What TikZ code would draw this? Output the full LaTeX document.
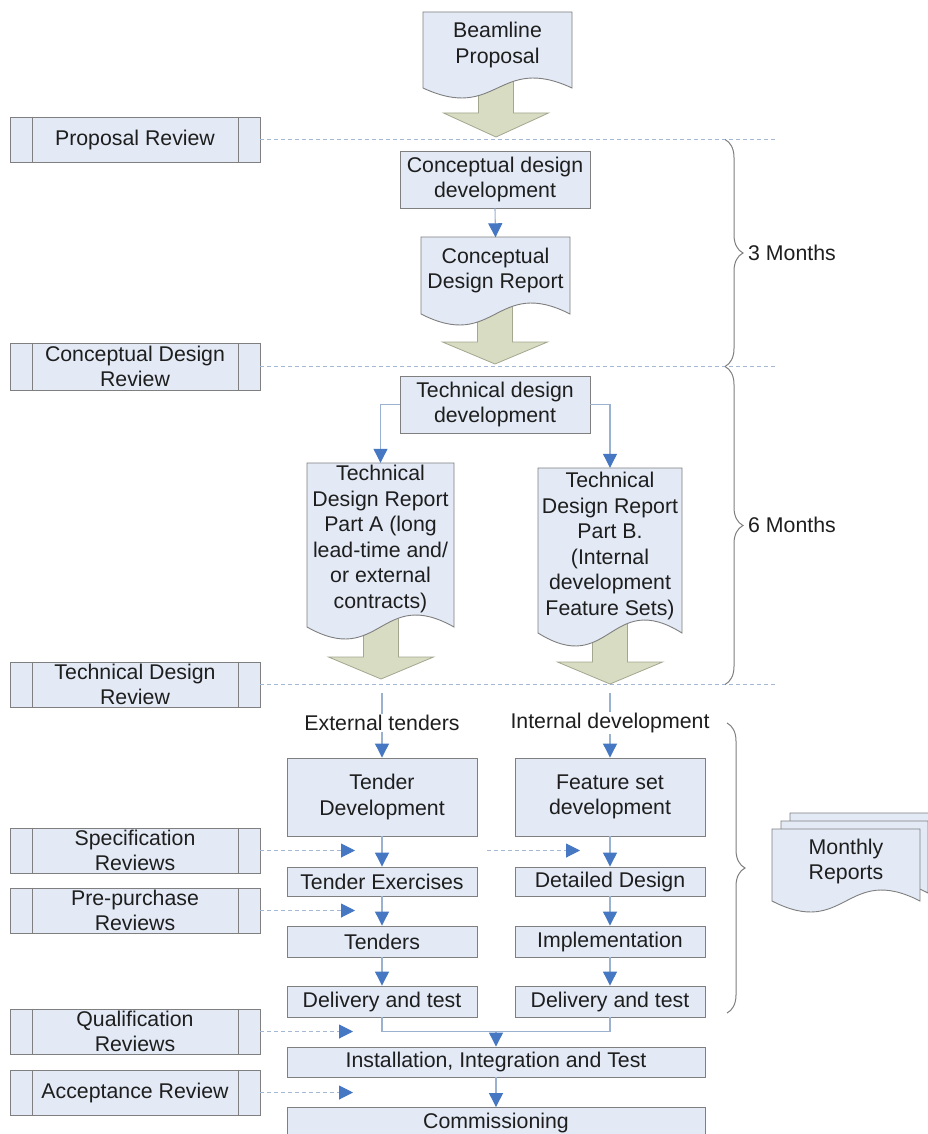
\documentclass[tikz,border=0pt]{standalone}
\usepackage{fontspec}
\setmainfont{Liberation Sans}
\usetikzlibrary{arrows.meta,decorations.pathreplacing}
\definecolor{boxfill}{HTML}{E3EAF6}
\definecolor{boxline}{HTML}{7F7F7F}
\definecolor{greenfill}{HTML}{D7DCC2}
\definecolor{greenline}{HTML}{A3A78F}
\definecolor{connline}{HTML}{9AB1CF}
\definecolor{arrblue}{HTML}{4677C2}
\definecolor{dashcol}{HTML}{A5B8D3}
\definecolor{txt}{HTML}{1E1E1E}
\newcommand\docshape[5]{\draw[docst] (#1,#2) -- (#3,#2) -- (#3,#4) .. controls ({(#1+#3)/2},{#4-3.46*#5}) and ({(#1+#3)/2},{#4+3.46*#5}) .. (#1,#4) -- cycle;}
\newcommand\blockarrow[4]{\draw[garr] ({#1-17.5},#2) -- ({#1+17.5},#2) -- ({#1+17.5},#3) -- ({#1+52.5},#3) -- (#1,#4) -- ({#1-52.5},#3) -- ({#1-17.5},#3) -- cycle;}
\begin{document}
\begin{tikzpicture}[x=1pt,y=-1pt,
  font=\fontsize{21.3}{25.5}\selectfont, text=txt,
  box/.style={draw=boxline, fill=boxfill, line width=0.9pt, inner sep=0pt, align=center, minimum width=190pt},
  rev/.style={box, minimum width=250pt, minimum height=45pt},
  doctxt/.style={inner sep=0pt, align=center},
  docst/.style={draw=boxline, fill=boxfill, line width=0.9pt},
  garr/.style={draw=greenline, fill=greenfill, line width=0.8pt, line join=miter},
  conn/.style={draw=connline, line width=1.1pt},
  arr/.style={conn, -{Triangle[width=14pt,length=14pt,color=arrblue]}},
  dline/.style={draw=dashcol, line width=1pt, dash pattern=on 4pt off 3pt},
  darr/.style={dline, -{Triangle[width=14pt,length=14pt,color=arrblue]}},
  brc/.style={draw=boxline, line width=1pt, decorate, decoration={brace, amplitude=18pt}},
  lbl/.style={inner sep=1pt}]
\useasboundingbox[fill=white] (0,0) rectangle (927,1134);

% review boxes (left)
\node[rev] (prop) at (135,139.5) {Proposal Review};
\node[rev, minimum height=47pt] (cdrev) at (135,366.5) {Conceptual Design\\Review};
\node[rev] (tdrev) at (135,684.5) {Technical Design\\Review};
\node[rev] (spec) at (135,850.5) {Specification\\Reviews};
\node[rev] (pre) at (135,910.5) {Pre-purchase\\Reviews};
\node[rev] (qual) at (135,1031.5) {Qualification\\Reviews};
\node[rev] (acc) at (135,1092.5) {Acceptance Review};
\foreach \r in {prop,cdrev,tdrev,spec,pre,qual,acc}{
  \draw[boxline, line width=0.9pt] ([xshift=23pt]\r.north west) -- ([xshift=23pt]\r.south west);
  \draw[boxline, line width=0.9pt] ([xshift=-22pt]\r.north east) -- ([xshift=-22pt]\r.south east);
}

% dashed phase lines
\coordinate (e1) at (778,139.5);
\coordinate (e2) at (778,366.5);
\coordinate (e3) at (778,684.5);
\draw[dline] (prop.east) -- (e1);
\draw[dline] (cdrev.east) -- (e2);
\draw[dline] (tdrev.east) -- (e3);

% block arrows (under documents)
\blockarrow{496}{70}{113}{137}
\blockarrow{495}{295}{342}{364}
\blockarrow{381}{610}{657}{679}
\blockarrow{610}{615}{662}{684}

% documents
\docshape{423}{12}{572}{88}{10}
\docshape{421}{237}{570}{314}{11}
\docshape{307}{463}{454}{627}{12}
\docshape{538}{468}{682}{633}{13}
\docshape{790}{813}{940}{885}{11}
\docshape{781}{821}{928}{893}{11}
\docshape{772}{829}{920}{901}{11}

\node[doctxt, minimum width=149pt, minimum height=66pt] (bp) at (497.5,45) {Beamline\\Proposal};
\node[doctxt, minimum width=149pt, minimum height=66pt] (cdr) at (495.5,270.5) {Conceptual\\Design Report};
\node[doctxt, minimum width=147pt, minimum height=152pt] (tdra) at (380.5,539) {Technical\\Design Report\\Part A (long\\lead-time and/\\or external\\contracts)};
\node[doctxt, minimum width=144pt, minimum height=156pt] (tdrb) at (610,546) {Technical\\Design Report\\Part B.\\(Internal\\development\\Feature Sets)};
\node[doctxt] (mon) at (846,861.5) {Monthly\\Reports};

% flow boxes
\node[box, minimum height=57pt] (cdd) at (495,179.5) {Conceptual design\\development};
\node[box, minimum height=57pt] (tdd) at (495,404.5) {Technical design\\development};
\node[box, minimum height=78pt] (tdev) at (382,797) {Tender\\Development};
\node[box, minimum height=78pt] (fdev) at (610,797) {Feature set\\development};
\node[box, minimum height=29pt] (tex) at (382,881.5) {Tender Exercises};
\node[box, minimum height=29pt] (ddes) at (610,881.5) {Detailed Design};
\node[box, minimum height=31pt] (tend) at (382,941.5) {Tenders};
\node[box, minimum height=31pt] (impl) at (610,941.5) {Implementation};
\node[box, minimum height=31pt] (del1) at (382,1001.5) {Delivery and test};
\node[box, minimum height=31pt] (del2) at (610,1001.5) {Delivery and test};
\node[box, minimum width=418pt, minimum height=30pt] (inst) at (496,1062) {Installation, Integration and Test};
\node[box, minimum width=418pt, minimum height=30pt] (comm) at (496,1122.5) {Commissioning};

% labels
\node[lbl] (ext) at (382,723) {External tenders};
\node[lbl] (int) at (610,723) {Internal development};
\node[lbl, anchor=west] (m3) at (747,253) {3 Months};
\node[lbl, anchor=west] (m6) at (747,525) {6 Months};

% connectors
\draw[arr] (cdd.south) -- (cdr.north);
\draw[arr] (tdd.west) -| (tdra.north);
\draw[arr] (tdd.east) -| (tdrb.north);
\coordinate (ta) at (382,693);
\coordinate (tb) at (610,693);
\draw[conn] (ta) -- (ext.north);
\draw[conn] (tb) -- (int.north);
\draw[arr] (ext.south) -- (tdev.north);
\draw[arr] (int.south) -- (fdev.north);
\draw[arr] (tdev.south) -- (tex.north);
\draw[arr] (tex.south) -- (tend.north);
\draw[arr] (tend.south) -- (del1.north);
\draw[arr] (fdev.south) -- (ddes.north);
\draw[arr] (ddes.south) -- (impl.north);
\draw[arr] (impl.south) -- (del2.north);
\coordinate (jn) at (496,1031.5);
\draw[conn] (del1.south) |- (jn);
\draw[conn] (del2.south) |- (jn);
\draw[arr] (jn) -- (inst.north);
\draw[arr] (inst.south) -- (comm.north);

% dashed review arrows
\coordinate (s1) at (355,850.5);
\coordinate (s2a) at (487,850.5);
\coordinate (s2b) at (580,850.5);
\coordinate (p1) at (355,910.5);
\coordinate (q1) at (353,1031.5);
\coordinate (a1) at (353,1092.5);
\draw[darr] (spec.east) -- (s1);
\draw[darr] (s2a) -- (s2b);
\draw[darr] (pre.east) -- (p1);
\draw[darr] (qual.east) -- (q1);
\draw[darr] (acc.east) -- (a1);

% braces
\coordinate (b1) at (725,139.5);
\coordinate (b2) at (725,366.5);
\coordinate (b3) at (725,684.5);
\coordinate (b4) at (727,723);
\coordinate (b5) at (727,1013);
\draw[brc] (b1) -- (b2);
\draw[brc] (b2) -- (b3);
\draw[brc] (b4) -- (b5);
\end{tikzpicture}
\end{document}
